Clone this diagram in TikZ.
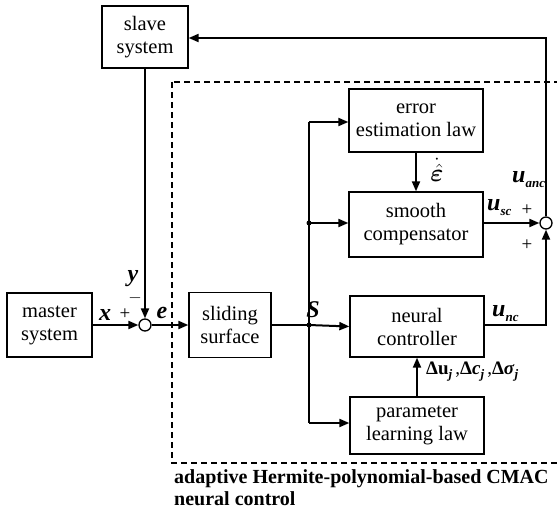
\documentclass[tikz,border=0pt]{standalone}
\usepackage{fontspec}
\setmainfont{Liberation Serif}
\usepackage{amsmath,amssymb,bm}
\usetikzlibrary{arrows.meta}
\newcommand{\subs}[1]{\raisebox{-0.45ex}{\fontsize{13}{13}\selectfont\bfseries\itshape #1}}
\begin{document}
\begin{tikzpicture}[x=1pt,y=-1pt,
  blk/.style={draw,line width=1.3pt,minimum width=#1,inner sep=0pt,align=center,font=\fontsize{20.5}{23}\selectfont},
  conn/.style={line width=2pt,-{Triangle[length=10pt,width=8pt]}},
  plain/.style={line width=2pt},
  sumc/.style={circle,draw,line width=1.3pt,minimum size=12pt,inner sep=0pt,fill=white},
  dot/.style={circle,fill,minimum size=5pt,inner sep=0pt},
  lab/.style={font=\fontsize{24}{24}\selectfont\bfseries\itshape,inner sep=0pt},
  sgn/.style={font=\fontsize{19}{19}\selectfont,inner sep=0pt}]
\useasboundingbox (0,0) rectangle (557,511);
% dashed region
\begin{scope}
\clip (0,0) rectangle (557,511);
\draw[line width=2pt,dash pattern=on 6pt off 4pt] (172,82) rectangle (620,463);
\end{scope}
% blocks
\node[blk=86pt,minimum height=62pt] (slave) at (145,37) {slave\\system};
\node[blk=85pt,minimum height=64pt] (master) at (49.5,325) {master\\system};
\node[blk=82pt,minimum height=65pt] (slide) at (230,325) {sliding\\surface};
\node[blk=134pt,minimum height=63pt] (err) at (416,120.5) {error\\estimation law};
\node[blk=134pt,minimum height=65pt] (smooth) at (416,224.5) {smooth\\compensator};
\node[blk=134pt,minimum height=61pt] (neural) at (417,326.5) {neural\\controller};
\node[blk=134pt,minimum height=57pt] (param) at (417,425.5) {parameter\\learning law};
% summing junctions
\node[sumc] (sum1) at (145,325) {};
\node[sumc] (sum2) at (546,223) {};
% branch points
\coordinate (jtop) at (309,122);
\node[dot] (jmid) at (309,223) {};
\node[dot] (jmain) at (309,325) {};
\coordinate (jbot) at (309,423);
\coordinate (fbA) at (546,38);
\coordinate (fbB) at (546,325);
% connectors
\draw[conn] (master.east) -- (sum1.west);
\draw[conn] (slave.south) -- (sum1.north);
\draw[conn] (sum1.east) -- (slide.west);
\draw[plain] (slide.east) -- (jmain.center);
\draw[conn] (jmain.center) -- (neural.west);
\draw[plain] (jtop) -- (jbot);
\draw[conn] (jtop) -- (err.west |- jtop);
\draw[conn] (jmid.center) -- (smooth.west |- jmid);
\draw[conn] (jbot) -- (param.west |- jbot);
\draw[conn] (err.south) -- (smooth.north);
\draw[conn] (param.north) -- (neural.south);
\draw[conn] (smooth.east |- sum2) -- (sum2.west);
\draw[conn] (neural.east |- fbB) -- (fbB) -- (sum2.south);
\draw[conn] (sum2.north) -- (fbA) -- (slave.east |- fbA);
% labels
\node[lab] (lx) at (105,315) {x};
\node[sgn] (px) at (125,314) {+};
\node[lab] (ly) at (133,279) {y};
\node[sgn] (my) at (135,298) {$-$};
\node[lab] (le) at (162,313) {e};
\node[lab] (ls) at (313,310) {S};
\node[inner sep=0pt] (leps) at (437,170) {\fontsize{23}{23}\selectfont$\boldsymbol{\dot{\hat{\varepsilon}}}$};
\node[lab,anchor=west] (lanc) at (512,180) {u\subs{anc}};
\node[lab,anchor=west] (lsc) at (487,208) {u\subs{sc}};
\node[sgn] (psc) at (527,210) {+};
\node[sgn] (pnc) at (527,245) {+};
\node[lab,anchor=west] (lnc) at (492,314) {u\subs{nc}};
\node[inner sep=0pt,anchor=west,font=\fontsize{19}{19}\selectfont] (ldelta) at (426,372)
  {\textbf{Δu}\subs{j}\,,\textbf{Δ}\textbf{\textit{c}}\subs{j}\,,\textbf{Δ}\textbf{\textit{σ}}\subs{j}};
\node[anchor=north west,inner sep=0pt,align=left,font=\fontsize{20}{22}\selectfont\bfseries] (title) at (174,469)
  {adaptive Hermite-polynomial-based CMAC\\neural control};
\end{tikzpicture}
\end{document}
